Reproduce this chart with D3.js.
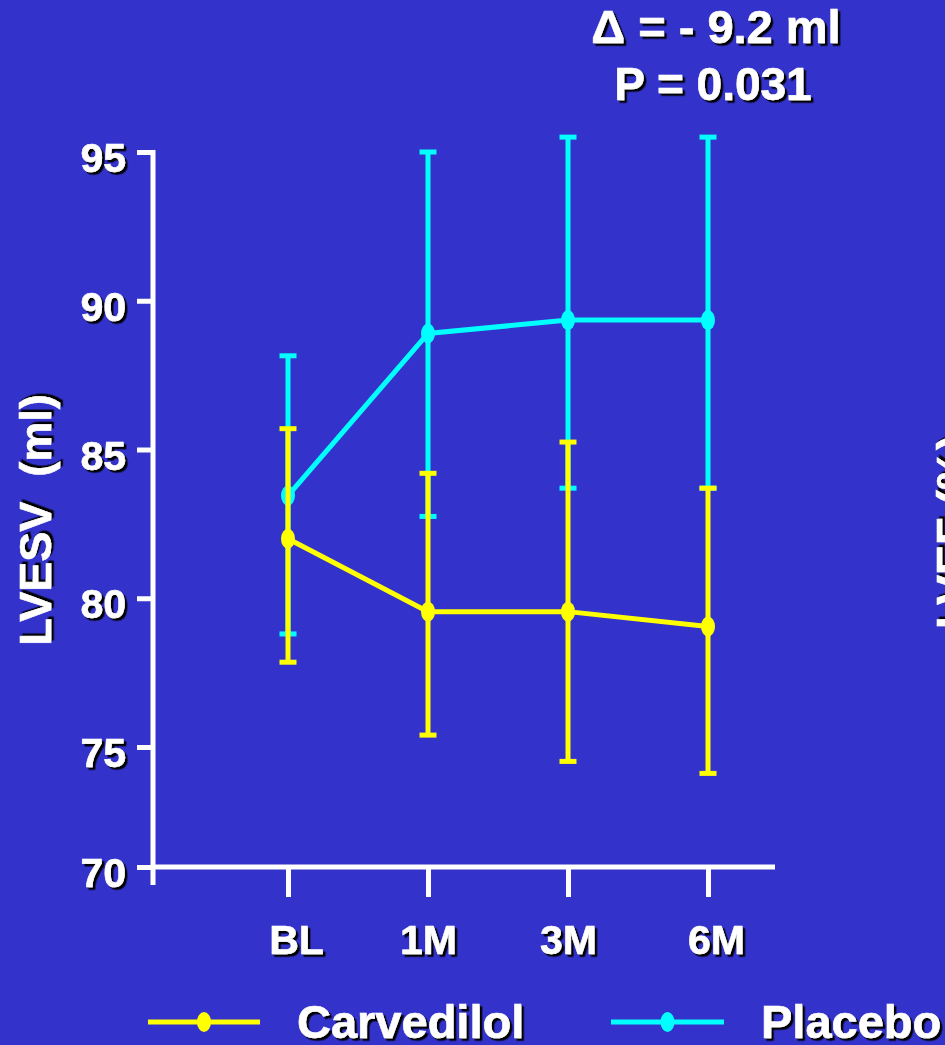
<!DOCTYPE html>
<html>
<head>
<meta charset="utf-8">
<script src="https://cdn.jsdelivr.net/npm/d3@7"></script>
<style>
  html, body { margin: 0; padding: 0; background: #3333CC; overflow: hidden; }
  svg { display: block; }
  text { font-family: "Liberation Sans", Arial, sans-serif; font-weight: bold; fill: #fff; }
</style>
</head>
<body>
<svg id="chart" width="945" height="1045"></svg>
<script>
// ---- data ----
const categories = ["BL", "1M", "3M", "6M"];
const carvedilolMean  = [82.0, 79.55, 79.55, 79.05];
const carvedilolUpper = [85.7, 84.2, 85.25, 83.7];
const carvedilolLower = [77.85, 75.4, 74.4, 73.9];
const placeboMean  = [83.45, 88.9, 89.35, 89.35];
const placeboUpper = [88.15, 95.0, 95.5, 95.5];
const placeboLower = [78.8, 82.75, 83.7, 83.7];
const yTicks = [70, 75, 80, 85, 90, 95];
const seriesNames = ["Carvedilol", "Placebo"];
const annotation = ["\u0394 = - 9.2 ml", "P = 0.031"];
const yTitle = "LVESV  (ml)";
const clippedTitle = "LVEF (%)";

// ---- setup ----
const svg = d3.select("#chart");
const BG = "#3333CC", YEL = "#FFFF00", CYAN = "#00FFFF";
svg.append("rect").attr("width", 945).attr("height", 1045).attr("fill", BG);

const defs = svg.append("defs");
const f = defs.append("filter").attr("id", "shadow")
  .attr("x", "-10%").attr("y", "-10%").attr("width", "130%").attr("height", "130%");
f.append("feDropShadow").attr("dx", 2.5).attr("dy", 2.5)
  .attr("stdDeviation", 0.4).attr("flood-color", "#000").attr("flood-opacity", 1);

// broken axis: 70 sits closer to 75 than linear spacing
const y = d3.scaleLinear().domain([70, 75, 95]).range([867, 747, 152]);
const x = d3.scalePoint().domain(categories).range([288, 708]);

// ---- y axis ----
const yAxis = svg.append("g").attr("transform", "translate(153,0)")
  .call(d3.axisLeft(y).tickValues(yTicks).tickSize(16).tickPadding(11).tickFormat(d3.format("d")));
yAxis.select(".domain").remove();
yAxis.selectAll(".tick line").attr("stroke", "#fff").attr("stroke-width", 5);
yAxis.selectAll(".tick text")
  .attr("fill", "#fff").style("font-size", "41px").attr("dy", "0.48em")
  .attr("stroke", "#fff").attr("stroke-width", 0.6)
  .attr("filter", "url(#shadow)");
yAxis.append("line").attr("x1", 0).attr("x2", 0)
  .attr("y1", y(95) - 2).attr("y2", y(70) + 18)
  .attr("stroke", "#fff").attr("stroke-width", 5);

// ---- x axis ----
const xAxis = svg.append("g").attr("transform", `translate(0,${y(70)})`)
  .call(d3.axisBottom(x).tickSize(30).tickPadding(28));
xAxis.select(".domain").remove();
xAxis.selectAll(".tick line").attr("stroke", "#fff").attr("stroke-width", 5);
xAxis.selectAll(".tick text")
  .attr("fill", "#fff").style("font-size", "41px")
  .attr("stroke", "#fff").attr("stroke-width", 0.6)
  .attr("dx", (d, i) => [8, 0, 0, 8][i])
  .attr("filter", "url(#shadow)");
xAxis.append("line").attr("x1", 151).attr("x2", 775).attr("y1", 0).attr("y2", 0)
  .attr("stroke", "#fff").attr("stroke-width", 5);

// ---- series ----
function drawSeries(mean, lo, hi, color) {
  const g = svg.append("g");
  const rows = categories.map((c, i) => ({ c, m: mean[i], lo: lo[i], hi: hi[i] }));
  g.selectAll(".eb").data(rows).enter().append("line")
    .attr("x1", d => x(d.c)).attr("x2", d => x(d.c))
    .attr("y1", d => y(d.hi)).attr("y2", d => y(d.lo))
    .attr("stroke", color).attr("stroke-width", 5);
  g.selectAll(".capHi").data(rows).enter().append("line")
    .attr("x1", d => x(d.c) - 8.5).attr("x2", d => x(d.c) + 8.5)
    .attr("y1", d => y(d.hi)).attr("y2", d => y(d.hi))
    .attr("stroke", color).attr("stroke-width", 5);
  g.selectAll(".capLo").data(rows).enter().append("line")
    .attr("x1", d => x(d.c) - 8.5).attr("x2", d => x(d.c) + 8.5)
    .attr("y1", d => y(d.lo)).attr("y2", d => y(d.lo))
    .attr("stroke", color).attr("stroke-width", 5);
  g.append("path").datum(rows)
    .attr("d", d3.line().x(d => x(d.c)).y(d => y(d.m)))
    .attr("fill", "none").attr("stroke", color).attr("stroke-width", 5);
  g.selectAll(".pt").data(rows).enter().append("ellipse")
    .attr("cx", d => x(d.c)).attr("cy", d => y(d.m))
    .attr("rx", 7).attr("ry", 10).attr("fill", color);
}
drawSeries(placeboMean, placeboLower, placeboUpper, CYAN);
drawSeries(carvedilolMean, carvedilolLower, carvedilolUpper, YEL);

// ---- titles ----
svg.append("text").attr("transform", "translate(51,520) rotate(-90)")
  .attr("text-anchor", "middle").style("font-size", "45px").style("white-space", "pre")
  .attr("stroke", "#fff").attr("stroke-width", 0.6)
  .attr("filter", "url(#shadow)").text(yTitle);
svg.append("text").attr("transform", "translate(968,532) rotate(-90)")
  .attr("text-anchor", "middle").style("font-size", "45px")
  .attr("stroke", "#fff").attr("stroke-width", 0.6)
  .attr("filter", "url(#shadow)").text(clippedTitle);

svg.append("text").attr("x", 716).attr("y", 43).attr("text-anchor", "middle")
  .style("font-size", "47px").attr("stroke", "#fff").attr("stroke-width", 0.6)
  .attr("filter", "url(#shadow)").text(annotation[0]);
svg.append("text").attr("x", 713).attr("y", 100).attr("text-anchor", "middle")
  .style("font-size", "46px").attr("stroke", "#fff").attr("stroke-width", 0.6)
  .attr("filter", "url(#shadow)").text(annotation[1]);

// ---- legend ----
const legendItems = [
  { name: seriesNames[0], color: YEL, x0: 148, x1: 260, tx: 297 },
  { name: seriesNames[1], color: CYAN, x0: 611, x1: 724, tx: 761 }
];
const lg = svg.append("g");
legendItems.forEach(it => {
  lg.append("line").attr("x1", it.x0).attr("x2", it.x1).attr("y1", 1022).attr("y2", 1022)
    .attr("stroke", it.color).attr("stroke-width", 5);
  lg.append("ellipse").attr("cx", (it.x0 + it.x1) / 2).attr("cy", 1022)
    .attr("rx", 7).attr("ry", 10).attr("fill", it.color);
  lg.append("text").attr("x", it.tx).attr("y", 1038).style("font-size", "47px")
    .attr("stroke", "#fff").attr("stroke-width", 0.6)
    .attr("filter", "url(#shadow)").text(it.name);
});
</script>
</body>
</html>
